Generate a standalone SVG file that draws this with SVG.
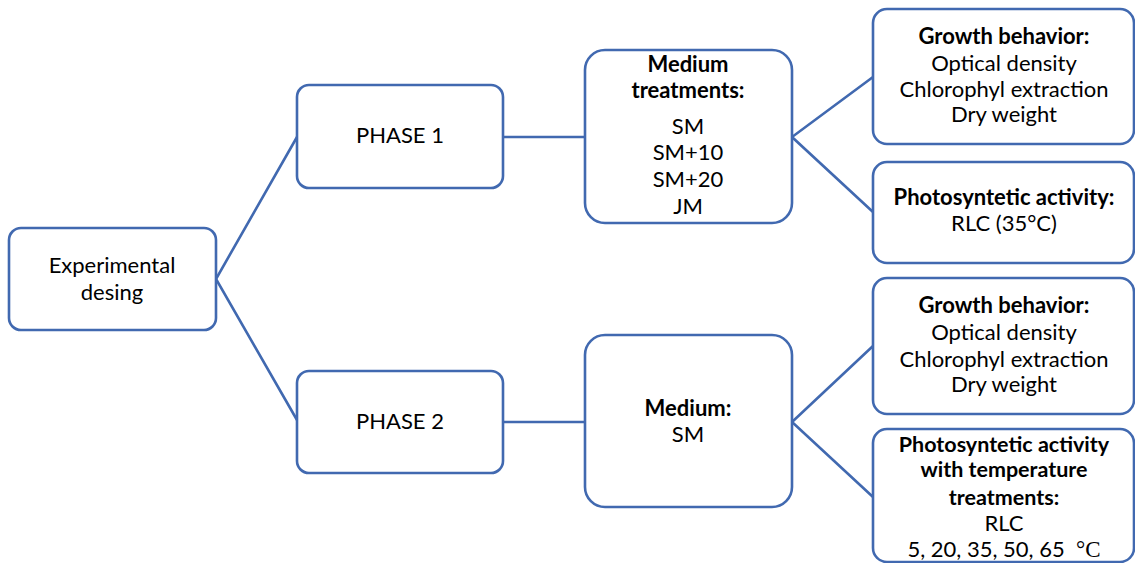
<svg xmlns="http://www.w3.org/2000/svg" width="1135" height="563" viewBox="0 0 1135 563">
<style>
.box{fill:#fff;stroke:#4169B0;stroke-width:2.6}
.ln{stroke:#4169B0;stroke-width:2.6;fill:none}
text{font-family:Lato,"Liberation Sans",sans-serif;font-size:22px;fill:#000;text-anchor:middle}
.b{font-weight:bold}
.s{font-family:"Liberation Serif",serif;font-size:23px}
</style>
<rect width="1135" height="563" fill="#fff"/>
<g id="connectors">
<polyline class="ln" points="297,137 216,279 297,420"/>
<line class="ln" x1="503" y1="137" x2="585" y2="137"/>
<line class="ln" x1="503" y1="422" x2="585" y2="422"/>
<polyline class="ln" points="873,77 792,137 873,212"/>
<polyline class="ln" points="873,346 792,422 873,497"/>
</g>
<g id="exp">
<rect class="box" x="9" y="228" width="207" height="102" rx="12"/>
<text x="112" y="273">Experimental</text>
<text x="112" y="300">desing</text>
</g>
<g id="phase1">
<rect class="box" x="297" y="85" width="206" height="103" rx="12"/>
<text x="400" y="143">PHASE 1</text>
</g>
<g id="phase2">
<rect class="box" x="297" y="371" width="206" height="102" rx="12"/>
<text x="400" y="429">PHASE 2</text>
</g>
<g id="medium1">
<rect class="box" x="585" y="50" width="207" height="173" rx="20"/>
<text class="b" x="688" y="72">Medium</text>
<text class="b" x="688" y="98">treatments:</text>
<text x="688" y="134">SM</text>
<text x="688" y="160">SM+10</text>
<text x="688" y="187">SM+20</text>
<text x="688" y="214">JM</text>
</g>
<g id="medium2">
<rect class="box" x="585" y="335" width="207" height="172" rx="20"/>
<text class="b" x="688" y="416">Medium:</text>
<text x="688" y="442">SM</text>
</g>
<g id="growth1">
<rect class="box" x="873" y="9" width="261" height="135" rx="14"/>
<text class="b" x="1004" y="44">Growth behavior:</text>
<text x="1004" y="71">Optical density</text>
<text x="1004" y="97">Chlorophyl extraction</text>
<text x="1004" y="122">Dry weight</text>
</g>
<g id="photo1">
<rect class="box" x="873" y="162" width="261" height="101" rx="14"/>
<text class="b" x="1004" y="205">Photosyntetic activity:</text>
<text x="1004" y="231">RLC (35°C)</text>
</g>
<g id="growth2">
<rect class="box" x="873" y="278" width="261" height="136" rx="14"/>
<text class="b" x="1004" y="313">Growth behavior:</text>
<text x="1004" y="340">Optical density</text>
<text x="1004" y="367">Chlorophyl extraction</text>
<text x="1004" y="392">Dry weight</text>
</g>
<g id="photo2">
<rect class="box" x="873" y="429" width="261" height="133" rx="14"/>
<text class="b" x="1004" y="452" style="font-size:21.5px">Photosyntetic activity</text>
<text class="b" x="1004" y="477" style="font-size:21.5px">with temperature</text>
<text class="b" x="1004" y="505" style="font-size:21.5px">treatments:</text>
<text x="1004" y="531">RLC</text>
<text x="1004" y="557" style="white-space:pre">5, 20, 35, 50, 65  <tspan class="s">°C</tspan></text>
</g>
</svg>
